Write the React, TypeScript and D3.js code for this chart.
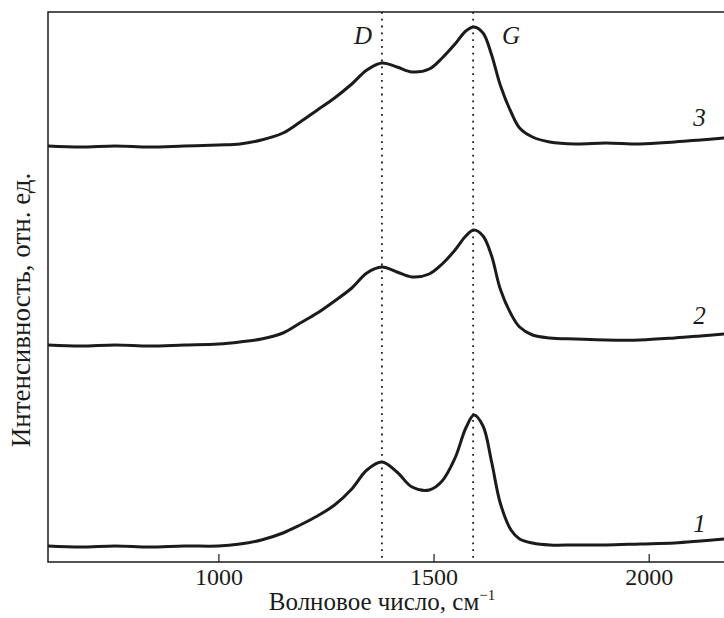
import React, { useEffect, useRef } from "react";
import * as d3 from "d3";

// wavenumber grid, cm-1
const waveNumbers = [604, 680, 760, 840, 920, 1000, 1050, 1100, 1150, 1190, 1230, 1270, 1310, 1345, 1380, 1415, 1450, 1490, 1520, 1550, 1575, 1594, 1615, 1635, 1655, 1680, 1700, 1730, 1770, 1830, 1900, 1980, 2060, 2120, 2175];

// intensities (already shifted up for each spectrum)
const spectrum1 = [0.08, 0.075, 0.08, 0.075, 0.08, 0.08, 0.09, 0.11, 0.145, 0.185, 0.23, 0.285, 0.365, 0.46, 0.5, 0.45, 0.375, 0.36, 0.405, 0.52, 0.67, 0.735, 0.68, 0.5, 0.295, 0.16, 0.115, 0.095, 0.085, 0.085, 0.085, 0.09, 0.095, 0.105, 0.115];
const spectrum2 = [1.085, 1.08, 1.085, 1.08, 1.085, 1.09, 1.1, 1.115, 1.145, 1.195, 1.245, 1.305, 1.37, 1.445, 1.475, 1.45, 1.425, 1.44, 1.49, 1.56, 1.63, 1.66, 1.63, 1.53, 1.365, 1.24, 1.175, 1.135, 1.12, 1.115, 1.11, 1.11, 1.12, 1.13, 1.14];
const spectrum3 = [2.08, 2.075, 2.08, 2.075, 2.08, 2.085, 2.09, 2.11, 2.145, 2.2, 2.26, 2.32, 2.39, 2.46, 2.495, 2.475, 2.45, 2.465, 2.52, 2.59, 2.655, 2.675, 2.645, 2.535, 2.385, 2.25, 2.17, 2.125, 2.1, 2.09, 2.095, 2.09, 2.1, 2.11, 2.12];

const spectra = [spectrum1, spectrum2, spectrum3];
const curveLabels = ["1", "2", "3"];
const labelLevels = [0.195, 1.235, 2.225];

const bandNames = ["D", "G"];
const bandPositions = [1380, 1592];

const xTicks = [1000, 1500, 2000];

const App = () => {
  const svgRef = useRef<SVGSVGElement>(null);

  useEffect(() => {
    const width = 724;
    const height = 618;
    const margin = { top: 12, right: 0, bottom: 56, left: 48 };
    const font = "'Liberation Serif', 'Times New Roman', serif";

    const svg = d3.select(svgRef.current);
    svg.selectAll("*").remove();

    const x = d3.scaleLinear()
      .domain([604, 2175])
      .range([margin.left, width - margin.right]);

    const y = d3.scaleLinear()
      .domain([0, 2.75])
      .range([height - margin.bottom, margin.top]);

    const ink = "#1b1b1b";

    // frame (left, top, bottom)
    svg.append("path")
      .attr("d", `M${width},${margin.top}H${margin.left}V${height - margin.bottom}H${width}`)
      .attr("fill", "none")
      .attr("stroke", ink)
      .attr("stroke-width", 1.5);

    // x ticks, pointing inwards
    const xAxis = svg.append("g")
      .attr("transform", `translate(0,${height - margin.bottom})`)
      .call(d3.axisBottom(x).tickValues(xTicks).tickSizeInner(-8).tickSizeOuter(0).tickPadding(6).tickFormat(d3.format("d")));
    xAxis.select(".domain").remove();
    xAxis.selectAll("line").attr("stroke", ink).attr("stroke-width", 1.2);
    xAxis.selectAll("text")
      .attr("fill", ink)
      .attr("font-family", font)
      .attr("font-size", 24);

    // band guide lines
    svg.selectAll(".band")
      .data(bandPositions)
      .enter().append("line")
      .attr("class", "band")
      .attr("x1", d => x(d))
      .attr("x2", d => x(d))
      .attr("y1", margin.top)
      .attr("y2", height - margin.bottom)
      .attr("stroke", ink)
      .attr("stroke-width", 1.8)
      .attr("stroke-dasharray", "1.8 5");

    svg.selectAll(".band-label")
      .data(bandNames)
      .enter().append("text")
      .attr("class", "band-label")
      .attr("x", (d, i) => x(bandPositions[i]) + (i === 0 ? -19 : 38))
      .attr("y", 44)
      .attr("text-anchor", "middle")
      .attr("font-family", font)
      .attr("font-style", "italic")
      .attr("font-size", 25)
      .attr("fill", ink)
      .text(d => d);

    const line = d3.line<number>()
      .x((d, i) => x(waveNumbers[i]))
      .y(d => y(d))
      .curve(d3.curveCatmullRom.alpha(0.5));

    svg.selectAll(".spectrum")
      .data(spectra)
      .enter().append("path")
      .attr("class", "spectrum")
      .attr("fill", "none")
      .attr("stroke", ink)
      .attr("stroke-width", 3)
      .attr("stroke-linejoin", "round")
      .attr("d", d => line(d));

    svg.selectAll(".curve-label")
      .data(curveLabels)
      .enter().append("text")
      .attr("class", "curve-label")
      .attr("x", x(2118))
      .attr("y", (d, i) => y(labelLevels[i]) + 9)
      .attr("text-anchor", "middle")
      .attr("font-family", font)
      .attr("font-style", "italic")
      .attr("font-size", 25)
      .attr("fill", ink)
      .text(d => d);

    // axis titles
    const xTitle = svg.append("text")
      .attr("x", 382)
      .attr("y", 610)
      .attr("text-anchor", "middle")
      .attr("font-family", font)
      .attr("font-size", 25)
      .attr("fill", ink)
      .text("Волновое число, см");
    xTitle.append("tspan")
      .attr("dy", -10)
      .attr("font-size", 15)
      .text("−1");

    svg.append("text")
      .attr("transform", `translate(30,${310}) rotate(-90)`)
      .attr("text-anchor", "middle")
      .attr("font-family", font)
      .attr("font-size", 27)
      .attr("fill", ink)
      .text("Интенсивность, отн. ед.");
  }, []);

  return (
    <div style={{ position: "absolute", left: 0, top: 0, background: "white" }}>
      <svg ref={svgRef} width={724} height={618}></svg>
    </div>
  );
};

export default App;
